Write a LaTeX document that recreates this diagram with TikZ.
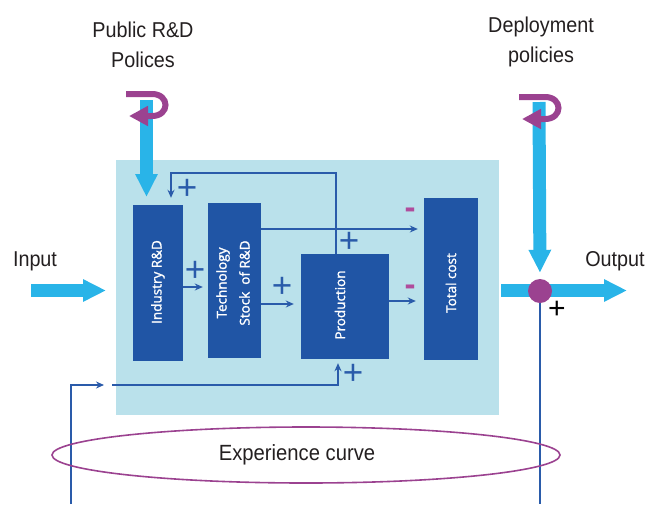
\documentclass[tikz,border=0pt]{standalone}
\usepackage{fontspec}
\setmainfont{Liberation Sans}[FakeStretch=0.92]
\newfontfamily\boxfont{Open Sans}[FakeBold=1.5]
\newfontfamily\signfont{Liberation Sans}
\newfontfamily\signfontb{Liberation Sans Bold}
\usetikzlibrary{arrows.meta,shapes.geometric}
\definecolor{panelc}{HTML}{BAE1EB}
\definecolor{boxc}{HTML}{2055A5}
\definecolor{linec}{HTML}{2A5BAA}
\definecolor{cyanc}{HTML}{29B4E8}
\definecolor{purplec}{HTML}{9B4290}
\definecolor{minusc}{HTML}{B04C9C}
\definecolor{textc}{HTML}{231F20}
\begin{document}
\begin{tikzpicture}[x=1pt,y=-1pt,
  panelbox/.style={draw=none,fill=panelc,inner sep=0pt},
  blockbox/.style={draw=none,fill=boxc,inner sep=0pt},
  blocktext/.style={rotate=90,text=white,font=\boxfont\fontsize{13.5}{23}\selectfont,align=center,inner sep=0pt},
  lbl/.style={text=textc,font=\fontsize{21.5}{30}\selectfont,align=center,inner sep=0pt,anchor=base},
  ln/.style={draw=linec,line width=1.7pt,-{Stealth[length=8pt,width=7pt]}},
  thinln/.style={draw=linec,line width=1.5pt},
  plusmark/.style={text=linec,font=\signfont\fontsize{35}{35}\selectfont,inner sep=0pt},
  minusmark/.style={text=minusc,font=\signfontb\fontsize{33}{33}\selectfont,inner sep=0pt},
  bigarrow/.style={draw=cyanc,line width=13pt,-{Triangle[length=23pt,width=21pt]}},
  curl/.style={draw=purplec,line width=6pt,-{Triangle[length=19pt,width=19pt]}},
]
\useasboundingbox (0,0) rectangle (653,504);

% panel and blocks
\node[panelbox,minimum width=383pt,minimum height=255pt] (panel) at (307.5,287.5) {};
\node[blockbox,minimum width=50pt,minimum height=156pt] (ind) at (158,283) {};
\node[blockbox,minimum width=53pt,minimum height=155pt] (tech) at (234.5,280.5) {};
\node[blockbox,minimum width=88pt,minimum height=105pt] (prod) at (345,306.5) {};
\node[blockbox,minimum width=54pt,minimum height=162pt] (tot) at (451,279) {};
\node[blocktext] (indt) at (158,282) {Industry R\&D};
\node[blocktext] (techt) at (233,283) {Technology\\Stock\ \ of R\&D};
\node[blocktext] (prodt) at (340,305) {Production};
\node[blocktext] (tott) at (451,283) {Total cost};

% inner connectors
\draw[ln,shorten >=5pt] (ind.east |- 0,287) -- (tech.west |- 0,287);
\draw[ln,shorten >=7pt] (tech.east |- 0,304) -- (prod.west |- 0,304);
\draw[ln,shorten >=6pt] (tech.east |- 0,229) -- (tot.west |- 0,229);
\draw[ln,shorten >=8pt] (prod.east |- 0,301) -- (tot.west |- 0,301);
\draw[ln,shorten >=7pt] (prod.north -| 336,0) -- (336,173) -| (ind.north -| 171,0);

% bottom loop
\coordinate (bl) at (71,504);
\coordinate (gapl) at (104,385);
\coordinate (gapr) at (112,385);
\draw[ln,line width=1.5pt] (bl) |- (gapl);
\draw[ln,shorten >=4pt] (gapr) -- (338,385) -- (prod.south -| 338,0);

% signs
\node[plusmark] (p1) at (187,189) {+};
\node[plusmark] (p2) at (195,271) {+};
\node[plusmark] (p3) at (282,287) {+};
\node[plusmark] (p4) at (349,242) {+};
\node[plusmark] (p5) at (353,374) {+};
\node[minusmark] (m1) at (410,213) {-};
\node[minusmark] (m2) at (410,290) {-};

% big arrows
\coordinate (ins) at (31,290.5);
\coordinate (ine) at (106,290.5);
\draw[bigarrow] (ins) -- (ine);
\coordinate (pubs) at (146.5,100);
\coordinate (pube) at (146.5,197);
\draw[bigarrow] (pubs) -- (pube);
\coordinate (outs) at (501,290.5);
\coordinate (oute) at (627,290.5);
\draw[bigarrow] (outs) -- (oute);
\node[circle,fill=purplec,minimum size=24pt,inner sep=0pt] (hub) at (540,291) {};
\coordinate (deps) at (539,102);
\draw[bigarrow,shorten >=6pt] (deps) -- (hub.north);
\coordinate (br) at (540,504);
\draw[thinln] (hub.south) -- (br);
\node[text=black,font=\signfont\fontsize{30}{30}\selectfont,inner sep=0pt] (p6) at (557,310) {+};

% curls
\draw[curl] (126,94) -- (152,94) .. controls (170,94) and (170,116) .. (152,116) -- (129,116);
\draw[curl] (519,97) -- (545,97) .. controls (563,97) and (563,119) .. (545,119) -- (522,119);

% labels
\node[lbl] (publbl) at (143,67) {Public R\&D\\Polices};
\node[lbl] (deplbl) at (541,62) {Deployment\\policies};
\node[lbl] (inlbl) at (35,266) {Input};
\node[lbl] (outlbl) at (615,266) {Output};

% experience curve
\node[ellipse,draw=purplec,line width=1.6pt,minimum width=508pt,minimum height=56pt,inner sep=0pt,text=textc,font=\fontsize{22}{26}\selectfont] (exp) at (306,455) {\hspace*{-18pt}Experience curve};
\end{tikzpicture}
\end{document}
